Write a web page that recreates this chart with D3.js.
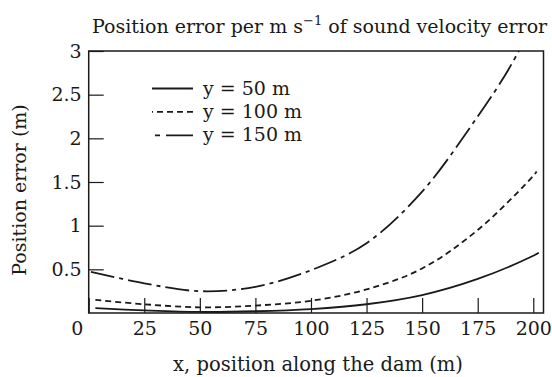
<!DOCTYPE html>
<html>
<head>
<meta charset="utf-8">
<script src="https://cdn.jsdelivr.net/npm/d3@7"></script>
<style>
  html, body { margin: 0; padding: 0; background: #fff; }
  svg { display: block; }
  text { font-family: "DejaVu Serif", "Liberation Serif", serif; fill: #1a1a1a; }
</style>
</head>
<body>
<svg id="chart" width="552" height="377"></svg>
<script>
// ---- data ----
const xTicks = [0, 25, 50, 75, 100, 125, 150, 175, 200];
const yTicks = [0.5, 1, 1.5, 2, 2.5, 3];
const xMax = 204.6;
const yMax = 3;

const seriesNames = ["y = 50 m", "y = 100 m", "y = 150 m"];

const x50 = [3, 25, 50, 75, 100, 125, 150, 175, 200, 202.5];
const v50 = [0.055, 0.03, 0.012, 0.02, 0.045, 0.10, 0.205, 0.39, 0.655, 0.69];

const x100 = [3, 25, 50, 75, 100, 125, 150, 175, 200, 201.5];
const v100 = [0.15, 0.10, 0.065, 0.085, 0.14, 0.27, 0.51, 0.95, 1.57, 1.62];

const x150 = [1, 25, 50, 75, 100, 125, 150, 175, 187.5, 193.5];
const v150 = [0.47, 0.34, 0.25, 0.30, 0.49, 0.80, 1.39, 2.25, 2.73, 3.0];

// ---- layout ----
const svg = d3.select("#chart");
const mLeft = 88.7, mRight = 543.5, mTop = 51, mBottom = 313;
const fs = 19;

const x = d3.scaleLinear().domain([0, xMax]).range([mLeft, mRight]);
const y = d3.scaleLinear().domain([0, yMax]).range([mBottom, mTop]);

const ink = "#1a1a1a";
const dashes = [null, "6,4", "24,5,4,5"];
const legendDashes = [null, "6,4", "27,6,5,10"];

// curves
const line = d3.line().x(d => x(d[0])).y(d => y(d[1])).curve(d3.curveCatmullRom.alpha(0.5));
const series = [
  d3.zip(x50, v50),
  d3.zip(x100, v100),
  d3.zip(x150, v150)
];
series.forEach((s, i) => {
  svg.append("path")
    .attr("d", line(s))
    .attr("fill", "none")
    .attr("stroke", ink)
    .attr("stroke-width", 1.8)
    .attr("stroke-dasharray", dashes[i]);
});

// axes (ticks inward)
const xAxis = d3.axisBottom(x).tickValues(xTicks).tickSizeInner(-15).tickSizeOuter(0);
const gx = svg.append("g").attr("transform", `translate(0,${mBottom})`).call(xAxis);
const yAxis = d3.axisLeft(y).tickValues(yTicks).tickSizeInner(-15).tickSizeOuter(0)
  .tickFormat(d3.format("~g"));
const gy = svg.append("g").attr("transform", `translate(${mLeft},0)`).call(yAxis);

[gx, gy].forEach(g => {
  g.select(".domain").remove();
  g.selectAll(".tick line").attr("stroke", ink).attr("stroke-width", 1.2);
  g.selectAll(".tick text").attr("font-family", "DejaVu Serif").attr("font-size", fs).attr("fill", ink);
});
gx.selectAll(".tick text").attr("y", 9).attr("dy", "0.71em");
gx.selectAll(".tick").filter(d => d === 0).select("text").attr("x", -12);
gy.selectAll(".tick text").attr("x", -7);

// frame
svg.append("rect")
  .attr("x", mLeft).attr("y", mTop)
  .attr("width", mRight - mLeft).attr("height", mBottom - mTop)
  .attr("fill", "none").attr("stroke", ink).attr("stroke-width", 1.5);

// legend
const legX1 = 152, legX2 = 193, legY0 = 88.5, legDY = 23.4;
seriesNames.forEach((name, i) => {
  const ly = legY0 + i * legDY;
  svg.append("line")
    .attr("x1", legX2).attr("x2", legX1).attr("y1", ly).attr("y2", ly)
    .attr("stroke", ink).attr("stroke-width", 1.8)
    .attr("stroke-dasharray", legendDashes[i]);
  svg.append("text")
    .attr("x", 203).attr("y", ly + 6)
    .attr("font-size", fs)
    .text(name);
});

// title
const title = svg.append("text").attr("x", 92).attr("y", 33).attr("font-size", fs);
title.append("tspan").text("Position error per m s");
title.append("tspan").attr("dy", -8).attr("font-size", 13).text("\u22121");
title.append("tspan").attr("dy", 8).text(" of sound velocity error");

// axis labels
svg.append("text")
  .attr("x", 318).attr("y", 371)
  .attr("text-anchor", "middle")
  .attr("font-size", 19.5)
  .text("x, position along the dam (m)");

svg.append("text")
  .attr("transform", "translate(26,190) rotate(-90)")
  .attr("text-anchor", "middle")
  .attr("font-size", fs)
  .text("Position error (m)");
</script>
</body>
</html>
